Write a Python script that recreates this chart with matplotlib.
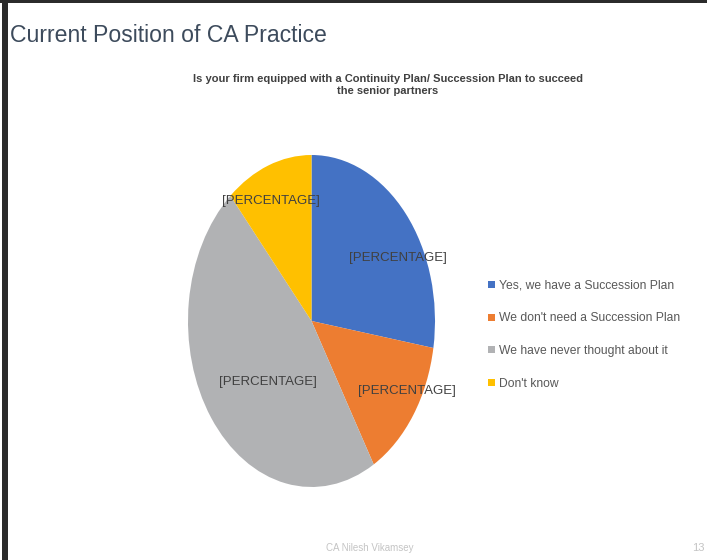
import matplotlib
matplotlib.use("Agg")
import matplotlib.pyplot as plt
from matplotlib.patches import Rectangle

# survey answers, clockwise from 12 o'clock
answers = [
    "Yes, we have a Succession Plan",
    "We don't need a Succession Plan",
    "We have never thought about it",
    "Don't know",
]
shares = [27.6, 14.0, 47.0, 11.4]
slice_colors = ["#4472C4", "#ED7D31", "#B1B2B4", "#FFC000"]
slice_label = "[PERCENTAGE]"
# where each data label sits, in pie units (the pie spans -1..1)
label_xy = [(0.70, 0.38), (0.77, -0.42), (-0.35, -0.37), (-0.33, 0.72)]

slide_title = "Current Position of CA Practice"
chart_title = ("Is your firm equipped with a Continuity Plan/ Succession Plan to succeed\n"
               "the senior partners")
footer = "CA Nilesh Vikamsey"
page_no = "13"

W, H = 707, 560
fig = plt.figure(figsize=(W / 100, H / 100), dpi=100)
fig.patch.set_facecolor("white")

# slide frame: dark strip along the top and the left edge
fig.add_artist(Rectangle((0, 1 - 3 / H), 1, 3 / H, transform=fig.transFigure,
                         color="#2b2b2b", lw=0))
fig.add_artist(Rectangle((2 / W, 0), 6 / W, 1, transform=fig.transFigure,
                         color="#2b2b2b", lw=0))

fig.text(10 / W, 1 - 36 / H, slide_title, fontsize=16.6, color="#3d4b5c",
         family="Liberation Sans", va="center", ha="left")
fig.text(388 / W, 1 - 85 / H, chart_title, fontsize=8, color="#404040",
         family="Liberation Sans", weight="bold", ha="center", va="center",
         linespacing=1.3)

# pie drawn stretched vertically into an ellipse
ax = fig.add_axes([188 / W, 73 / H, 247 / W, 332 / H])
wedges, _ = ax.pie(shares, colors=slice_colors, startangle=90, counterclock=False,
                   radius=1.0, wedgeprops=dict(linewidth=0))
ax.set_aspect("auto")
ax.set_xlim(-1, 1)
ax.set_ylim(-1, 1)
ax.axis("off")

for (x, y) in label_xy:
    ax.text(x, y, slice_label, ha="center", va="center", fontsize=9.5,
            color="#404040", family="Liberation Sans")

leg = fig.legend(wedges, answers, loc="upper left",
                 bbox_to_anchor=(477 / W, 1 - 269 / H), frameon=False,
                 handlelength=0.55, handleheight=0.55, handletextpad=0.35,
                 labelspacing=1.7, prop=dict(family="Liberation Sans", size=8.7),
                 labelcolor="#595959")

fig.text(370 / W, 1 - 548 / H, footer, fontsize=7, color="#c4c4c4",
         family="Liberation Sans", ha="center", va="center")
fig.text(705 / W, 1 - 548 / H, page_no, fontsize=8, color="#c4c4c4",
         family="Liberation Sans", ha="right", va="center")

fig.savefig("out.png", dpi=100)
